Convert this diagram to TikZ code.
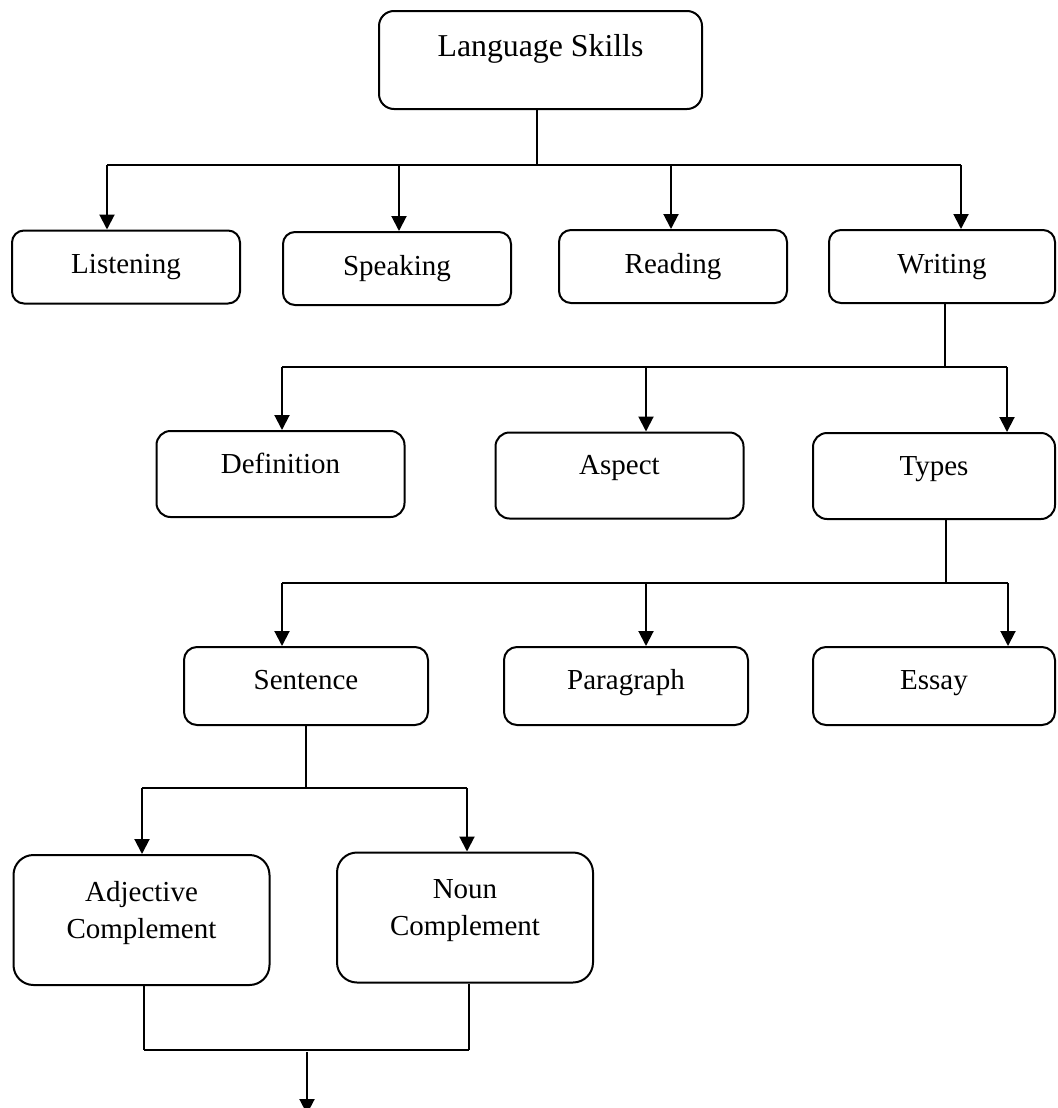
\documentclass[tikz,border=0pt]{standalone}
\usepackage{fontspec}
\setmainfont{Liberation Serif}
\usetikzlibrary{arrows.meta}

\begin{document}
\begin{tikzpicture}[x=0.5pt, y=-0.5pt,
		myline/.style={draw=black, line width=1pt},
		box/.style={myline, font=\fontsize{14.5}{18.35}\selectfont, align=center, inner sep=.3333em},
		headbox/.style={box, font=\fontsize{15.9}{19}\selectfont, minimum width=161.5pt, minimum height=49pt, rounded corners=7.5pt, text height=11pt, text depth=15pt},
		skillbox/.style={box, minimum width=114pt, minimum height=36.5pt, rounded corners=6pt, text height=10pt, text depth=3.4pt},
		partbox/.style={box, minimum width=124pt, minimum height=43pt, rounded corners=7pt, text height=10pt, text depth=10.9pt},
		typebox/.style={box, minimum width=122pt, minimum height=39pt, rounded corners=6.5pt, text height=10pt, text depth=6.4pt},
		complbox/.style={box, minimum width=128pt, minimum height=65pt, rounded corners=10pt, text depth=10.3pt},
		bar/.style={line width=1pt},
		stem/.style={line width=0.6pt},
		>={Triangle[length=7.5pt, width=7.5pt]}]
		
		\useasboundingbox (0,0) rectangle (1057,1108);
		
		\node[headbox] at (540.5,60) (skills) {Language Skills};
		
		\node[skillbox] at (126,267)   (listening) {Listening};
		\node[skillbox] at (397,268.5) (speaking) {Speaking};
		\node[skillbox] at (673,266.5) (reading) {Reading};
		\node[skillbox, minimum width=113pt] at (942,266.5) (writing) {Writing};
		
		\node[partbox] at (280.5,474) (definition) {Definition};
		\node[partbox] at (619.5,475.5) (aspect) {Aspect};
		\node[partbox, minimum width=121pt] at (934,476) (types) {Types};
		
		\node[typebox] at (306,686) (sentence) {Sentence};
		\node[typebox] at (626,686) (paragraph) {Paragraph};
		\node[typebox, minimum width=121pt] at (934,686) (essay) {Essay};
		
		\node[complbox] at (141.5,920) (adjective) {Adjective\\Complement};
		\node[complbox] at (465,917.5) (noun) {Noun\\Complement};
		
		% skills -> four skills
		\coordinate (j1) at (537,165);
		\coordinate (a1) at (107,165);
		\coordinate (a2) at (399,165);
		\coordinate (a3) at (671,165);
		\coordinate (a4) at (961,165);
		\draw[stem] (skills.south -| j1) -- (j1);
		\draw[bar] (a1) -- (a4);
		\draw[->, bar] (a1) -- (a1 |- listening.north);
		\draw[->, bar] (a2) -- (a2 |- speaking.north);
		\draw[->, bar] (a3) -- (a3 |- reading.north);
		\draw[->, bar] (a4) -- (a4 |- writing.north);
		
		% writing
		\coordinate (j2) at (945,367);
		\coordinate (b1) at (282,367);
		\coordinate (b2) at (646,367);
		\coordinate (b3) at (1007,367);
		\draw[stem] (writing.south -| j2) -- (j2);
		\draw[bar] (b1) -- (b3);
		\draw[->, bar] (b1) -- (b1 |- definition.north);
		\draw[->, bar] (b2) -- (b2 |- aspect.north);
		\draw[->, bar] (b3) -- (b3 |- types.north);
		
		% types
		\coordinate (j3) at (946,583);
		\coordinate (c1) at (282,583);
		\coordinate (c2) at (646,583);
		\coordinate (c3) at (1008,583);
		\draw[stem] (types.south -| j3) -- (j3);
		\draw[bar] (c1) -- (c3);
		\draw[->, bar] (c1) -- (c1 |- sentence.north);
		\draw[->, bar] (c2) -- (c2 |- paragraph.north);
		\draw[->, bar] (c3) -- (c3 |- essay.north);
		
		% sentence
		\coordinate (j4) at (306,788);
		\coordinate (d1) at (142,788);
		\coordinate (d2) at (467,788);
		\draw[stem] (sentence.south -| j4) -- (j4);
		\draw[bar] (d1) -- (d2);
		\draw[->, bar] (d1) -- (d1 |- adjective.north);
		\draw[->, bar] (d2) -- (d2 |- noun.north);
		
		% complements
		\coordinate (e1) at (144,1050);
		\coordinate (e2) at (469,1050);
		\coordinate (e0) at (307,1052);
		\coordinate (out) at (307,1114);
		\draw[stem] (adjective.south -| e1) -- (e1);
		\draw[stem] (noun.south -| e2) -- (e2);
		\draw[stem] (e1) -- (e2);
		\draw[->, bar] (e0) -- (out);
	\end{tikzpicture}
\end{document}
